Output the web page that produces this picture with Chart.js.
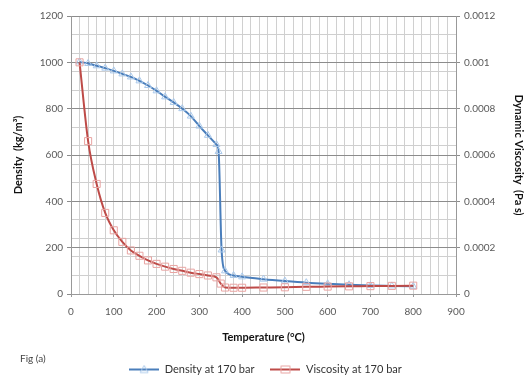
<!DOCTYPE html>
<html><head><meta charset="utf-8">
<script src="https://cdn.jsdelivr.net/npm/chart.js@4.4.1/dist/chart.umd.min.js"></script>
<style>
html,body{margin:0;padding:0;background:#fff;}
#wrap{position:relative;width:531px;height:385px;}
#fig{position:absolute;left:20px;top:352px;font:10px Lato, "Open Sans", sans-serif;color:#444;}
</style></head>
<body><div id="wrap"><canvas id="c" width="531" height="385"></canvas><div id="fig">Fig (a)</div></div>
<script>
const temperatureDensity = [20,40,60,80,100,120,140,160,180,200,220,240,260,280,300,320,340,345,352,360,380,400,450,500,550,600,650,700,750,800];
const densityValues = [1002,995,985,975,963,950,937,920,900,877,851,827,800,768,725,685,645,615,190,100,80,74,64,56,49,44,40,37,35,33];
const temperatureViscosity = [20,40,60,80,100,120,140,160,180,200,220,240,260,280,300,320,340,350,360,380,400,450,500,550,600,650,700,750,800];
const viscosityValues = [0.001,0.00066,0.000475,0.00035,0.000275,0.000225,0.000188,0.000165,0.000145,0.00013,0.000118,0.000108,0.0001,0.000092,0.000086,0.00008,0.000072,0.000045,0.000028,0.000027,0.000027,0.000028,0.000029,0.000031,0.000032,0.000033,0.000034,0.000035,0.000036];
const xTicks = [0,100,200,300,400,500,600,700,800,900];
const densityTicks = [0,200,400,600,800,1000,1200];
const viscosityTicks = [0,0.0002,0.0004,0.0006,0.0008,0.001,0.0012];

const blue='#4a7ebb', blueLight='#a9c8ea', red='#be4b48', redLight='#e8a4a2';
const FONT='Lato, "Open Sans", sans-serif';

function legendIcon(color, light, style){
  const c=document.createElement('canvas'); c.width=30; c.height=12;
  const g=c.getContext('2d');
  g.strokeStyle=color; g.lineWidth=2; g.beginPath(); g.moveTo(0,6); g.lineTo(30,6); g.stroke();
  g.strokeStyle=light; g.lineWidth=1; g.beginPath();
  if(style==='triangle'){ g.moveTo(15,2); g.lineTo(19,9); g.lineTo(11,9); g.closePath(); }
  else { g.rect(10.5,2.5,9,7); }
  g.stroke();
  return c;
}
const iconD=legendIcon(blue,blueLight,'triangle');
const iconV=legendIcon(red,redLight,'rect');

new Chart(document.getElementById('c'),{
  type:'scatter',
  data:{datasets:[
    {label:'Density at 170 bar',yAxisID:'y',data:temperatureDensity.map((t,i)=>({x:t,y:densityValues[i]})),
     showLine:true,borderColor:blue,borderWidth:2,cubicInterpolationMode:'monotone',
     pointStyle:'triangle',pointRadius:4,pointBorderColor:blueLight,pointBackgroundColor:'rgba(0,0,0,0)',pointBorderWidth:1,order:2},
    {label:'Viscosity at 170 bar',yAxisID:'y2',data:temperatureViscosity.map((t,i)=>({x:t,y:viscosityValues[i]})),
     showLine:true,borderColor:red,borderWidth:2,cubicInterpolationMode:'monotone',
     pointStyle:'rect',pointRadius:5,pointBorderColor:redLight,pointBackgroundColor:'rgba(0,0,0,0)',pointBorderWidth:1,order:1}
  ]},
  options:{
    responsive:false,animation:false,
    layout:{padding:{top:16,left:0,right:0,bottom:0}},
    plugins:{
      tooltip:{enabled:false},
      legend:{position:'bottom',
        labels:{usePointStyle:true,pointStyleWidth:30,font:{family:FONT,size:11},color:'#333',padding:16,
          generateLabels:(chart)=>chart.data.datasets.map((d,i)=>({text:d.label,pointStyle:i===0?iconD:iconV,datasetIndex:i,fontColor:'#333',lineWidth:0,strokeStyle:'rgba(0,0,0,0)',fillStyle:'rgba(0,0,0,0)'}))}}
    },
    scales:{
      x:{type:'linear',min:0,max:900,
        afterFit:(s)=>{s.height=54;},
        ticks:{stepSize:20,autoSkip:false,maxRotation:0,font:{family:FONT,size:10},color:'#595959',padding:9,
          callback:(v)=>xTicks.includes(v)?String(v):''},
        grid:{color:'#d0d0d0',drawTicks:true,tickLength:3,tickColor:(ctx)=>ctx.tick&&ctx.tick.value%100===0?'#999':'rgba(0,0,0,0)'},
        border:{color:'#999'},
        title:{display:true,text:'Temperature (°C)',font:{family:FONT,size:11,weight:'bold'},color:'#111',padding:{top:4}}
      },
      y:{type:'linear',position:'left',min:0,max:1200,
        afterFit:(s)=>{s.width=71;},
        afterBuildTicks:(s)=>{const t=[];for(let v=0;v<=1200;v+=40)t.push({value:v});s.ticks=t;},
        ticks:{autoSkip:false,font:{family:FONT,size:10},color:'#595959',padding:4,
          callback:(v)=>densityTicks.includes(v)?String(v):''},
        grid:{color:(ctx)=>{const v=ctx.tick?ctx.tick.value:-1;return v%200===0?'#8c8c8c':(v%80===0?'#cfcfcf':'rgba(0,0,0,0)');},
          tickLength:4,tickColor:(ctx)=>ctx.tick&&ctx.tick.value%200===0?'#8c8c8c':'rgba(0,0,0,0)'},
        border:{color:'#999'},
        title:{display:true,text:'Density  (kg/m³)',font:{family:FONT,size:11,weight:'bold'},color:'#111',padding:{top:12,bottom:6}}
      },
      y2:{type:'linear',position:'right',min:0,max:0.0012,
        afterFit:(s)=>{s.width=75;},
        afterBuildTicks:(s)=>{s.ticks=viscosityTicks.map(v=>({value:v}));},
        ticks:{font:{family:FONT,size:10},color:'#595959',padding:4,
          callback:(v)=>v===0?'0':String(+v.toFixed(4))},
        grid:{drawOnChartArea:false,tickLength:4,tickColor:'#8c8c8c'},
        border:{color:'#999'},
        title:{display:true,text:'Dynamic Viscosity  (Pa s)',font:{family:FONT,size:11,weight:'bold'},color:'#111',padding:{top:6}}
      }
    }
  }
});
</script></body></html>
